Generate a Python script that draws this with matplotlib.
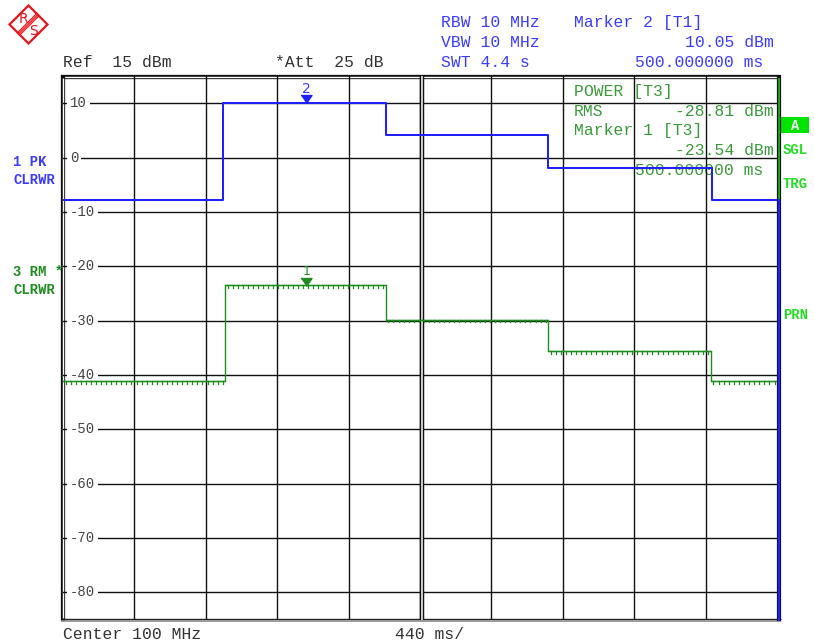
import matplotlib
matplotlib.use("Agg")
import matplotlib.pyplot as plt
import matplotlib.transforms as mtransforms
from matplotlib import patheffects as pe
from matplotlib.patches import Polygon, Rectangle
import numpy as np

# ---- trace data (time in s, level in dBm) ----
blue_edges = [0.0, 0.988, 1.990, 2.991, 3.997, 4.4]
blue_levels = [-7.8, 10.05, 4.2, -1.9, -7.8]

green_edges = [0.0, 1.0, 1.99, 2.99, 3.993, 4.4]
green_levels = [-41.2, -23.5, -29.8, -35.6, -41.2]

marker2 = (1.5, 10.05)
marker1 = (1.5, -23.54)

y_ticks = [10, 0, -10, -20, -30, -40, -50, -60, -70, -80]
x_ticks = [0.44, 0.88, 1.32, 1.76, 2.2, 2.64, 3.08, 3.52, 3.96]
x_range = (0.0, 4.4)
y_range = (-85, 15)

BLUE = "#1f1fff"
BLUE_TXT = "#3c3cff"
GREEN = "#1e8c1e"
GREEN_TXT = "#3a9a3a"
BRIGHT = "#22dd22"
GRAY_TXT = "#333333"
MONO = "Liberation Mono"

W, H = 814, 643
fig = plt.figure(figsize=(W / 100, H / 100), dpi=100)
fig.patch.set_facecolor("white")

# overlay in pixel coordinates for frame, logo and annotations
ov = fig.add_axes([0, 0, 1, 1], zorder=0)
ov.set_xlim(0, W)
ov.set_ylim(H, 0)
ov.axis("off")

ax = fig.add_axes([63 / W, (H - 619.5) / H, 714 / W, 543.4 / H], zorder=1)
ax.patch.set_visible(False)
ax.set_xlim(*x_range)
ax.set_ylim(*y_range)
ax.set_xticks(x_ticks)
ax.set_yticks(y_ticks)
ax.tick_params(length=0, labelleft=False, labelbottom=False)
for s in ax.spines.values():
    s.set_visible(False)
ax.set_axisbelow(True)
ax.grid(True, color="#111111", lw=1.0)

# double centre line
off = mtransforms.offset_copy(ax.transData, fig=fig, x=1.5, y=0, units="dots")
ax.plot([2.2, 2.2], list(y_range), color="#111111", lw=3.2, transform=off,
        zorder=1, solid_capstyle="butt")
ax.plot([2.2, 2.2], list(y_range), color="white", lw=1.1, transform=off,
        zorder=1.1, solid_capstyle="butt")

# level labels
blend = mtransforms.blended_transform_factory(ax.transAxes, ax.transData)
for v in y_ticks:
    ax.text(7 / 714, v, f"{v}", transform=blend, ha="left", va="center",
            family=MONO, fontsize=10, color="#444444", zorder=2,
            bbox=dict(boxstyle="square,pad=0.2", fc="white", ec="none"))

# green RMS trace with ripple texture on each level
gx = green_edges
gy = green_levels + [green_levels[-1]]
ax.step(gx, gy, where="post", color=GREEN, lw=1.0, zorder=3)
for i, lv in enumerate(green_levels):
    ax.plot([green_edges[i], green_edges[i + 1]], [lv, lv], color=GREEN, lw=0.9,
            zorder=3,
            path_effects=[pe.withTickedStroke(angle=-90, spacing=3.6, length=0.5)])

# blue peak trace
bx = blue_edges
by = blue_levels + [blue_levels[-1]]
ax.step(bx, by, where="post", color=BLUE, lw=1.45, zorder=4)
off_r = mtransforms.offset_copy(ax.transData, fig=fig, x=1.5, y=0, units="dots")
ax.plot([blue_edges[-1], blue_edges[-1]], [blue_levels[-1], y_range[0]],
        color=BLUE, lw=1.6, transform=off_r, clip_on=False, zorder=6)

# markers
tri = [(-5.5, 8), (5.5, 8), (0, 0)]
ax.plot(*marker2, marker=tri, ms=11.5, color=BLUE, zorder=5)
ax.plot(*marker1, marker=tri, ms=11.5, color=GREEN, zorder=5)
ax.annotate("2", marker2, xytext=(0, 14), textcoords="offset pixels",
            ha="center", va="center", color=BLUE_TXT, fontsize=10, zorder=5)
ax.annotate("1", marker1, xytext=(0, 14), textcoords="offset pixels",
            ha="center", va="center", color=GREEN, fontsize=9, zorder=5)

# ---- frame ----
def hline(y, x0, x1, c, lw):
    ov.plot([x0, x1], [y, y], color=c, lw=lw * 0.72, solid_capstyle="butt")

def vline(x, y0, y1, c, lw):
    ov.plot([x, x], [y0, y1], color=c, lw=lw * 0.72, solid_capstyle="butt")

hline(76.5, 61, 781, "#111111", 4.3)
hline(76.5, 62.5, 779.5, "white", 1.4)
vline(62.5, 75, 621, "#111111", 4.3)
vline(62.5, 78, 618, "white", 1.4)
hline(619.2, 61, 781, "#222222", 1.4)
hline(620.7, 61, 781, "#888888", 1.6)
vline(779.3, 75, 621, "#111111", 4.2)
vline(779.3, 78, 619, "#19b019", 1.8)

# ---- logo ----
RED = "#e8151b"
ov.add_patch(Polygon([(28.5, 5.5), (47.5, 24.5), (28.5, 43.5), (9.5, 24.5)],
                     closed=True, fill=False, ec=RED, lw=1.6))
p0, p1 = np.array([18.5, 34.0]), np.array([38.0, 14.5])
nrm = np.array([1.0, 1.0]) / np.sqrt(2)
for k in (-1.6, 0, 1.6):
    a, b = p0 + k * nrm, p1 + k * nrm
    ov.plot([a[0], b[0]], [a[1], b[1]], color=RED, lw=0.9)
ov.text(23, 19, "R", color=RED, fontsize=10, ha="center", va="center")
ov.text(33.5, 31, "S", color=RED, fontsize=10, ha="center", va="center")

# ---- header texts ----
def txt(x, y, s, c, ha="left", size=11.8, weight="normal", family=MONO):
    ov.text(x, y, s, color=c, ha=ha, va="baseline", fontsize=size,
            fontweight=weight, family=family)

txt(63, 67, "Ref  15 dBm", GRAY_TXT)
txt(275, 67, "*Att  25 dB", GRAY_TXT)
txt(441, 27, "RBW 10 MHz", BLUE_TXT)
txt(441, 47, "VBW 10 MHz", BLUE_TXT)
txt(441, 67, "SWT 4.4 s", BLUE_TXT)
txt(574, 27, "Marker 2 [T1]", BLUE_TXT)
txt(774, 47, "10.05 dBm", BLUE_TXT, ha="right")
txt(763, 67, "500.000000 ms", BLUE_TXT, ha="right")

txt(574, 96, "POWER [T3]", GREEN_TXT)
txt(574, 116.5, "RMS", GREEN_TXT)
txt(774, 116.5, "-28.81 dBm", GREEN_TXT, ha="right")
txt(574, 135, "Marker 1 [T3]", GREEN_TXT)
txt(774, 155, "-23.54 dBm", GREEN_TXT, ha="right")
txt(763, 175, "500.000000 ms", GREEN_TXT, ha="right")

txt(13, 166, "1 PK", BLUE_TXT, size=10, weight="bold")
txt(13, 183.5, "CLRWR", BLUE_TXT, size=10, weight="bold")
txt(13, 276, "3 RM *", GREEN, size=10, weight="bold")
txt(13, 293.5, "CLRWR", GREEN, size=10, weight="bold")

ov.add_patch(Rectangle((781, 117), 28, 16, fc="#00e400", ec="none"))
ov.text(795, 125.5, "A", color="white", ha="center", va="center", fontsize=10,
        fontweight="bold", family=MONO)
txt(783, 154, "SGL", BRIGHT, size=10, weight="bold")
txt(783, 188.5, "TRG", BRIGHT, size=10, weight="bold")
txt(783, 319, "PRN", BRIGHT, size=10, weight="bold")

txt(63, 639, "Center 100 MHz", GRAY_TXT)
txt(395, 639, "440 ms/", GRAY_TXT)

fig.savefig("out.png", dpi=100, facecolor="white")
